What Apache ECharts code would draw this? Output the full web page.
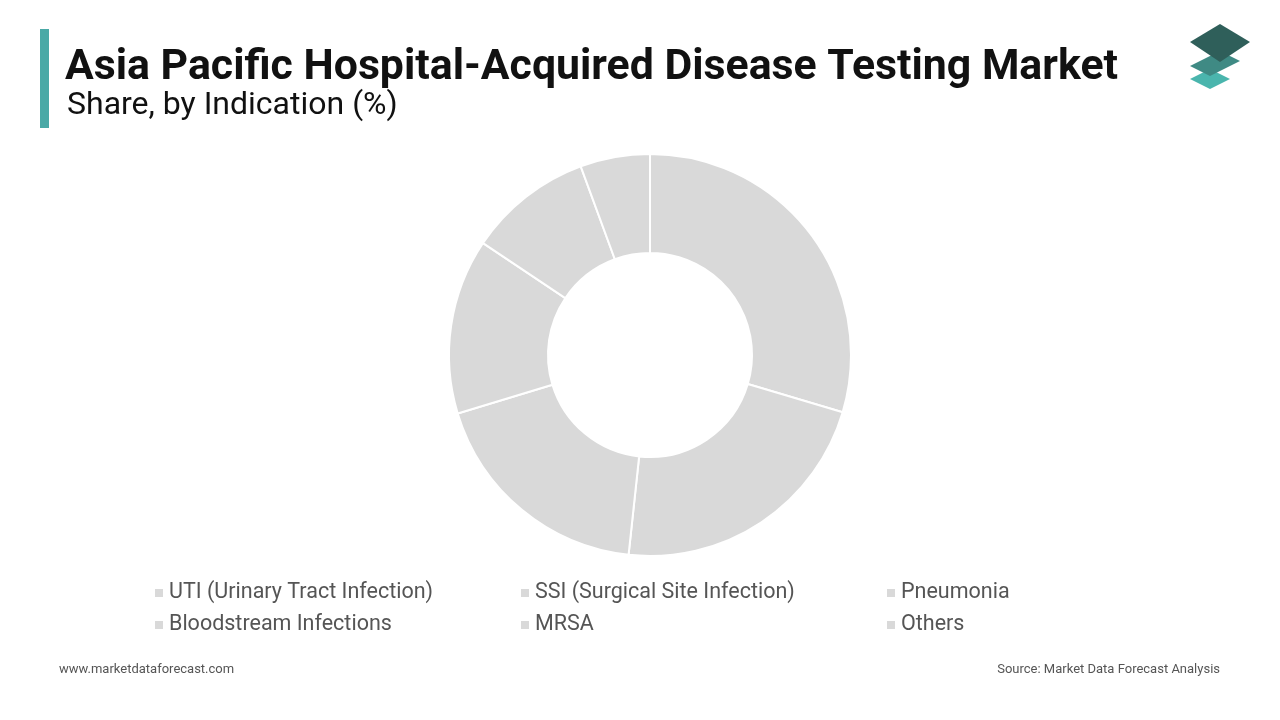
<!DOCTYPE html>
<html><head><meta charset="utf-8">
<script src="https://cdn.jsdelivr.net/npm/echarts@6/dist/echarts.min.js"></script>
<style>html,body{margin:0;padding:0;background:#fff}#c{width:1280px;height:720px}</style>
</head><body><div id="c"></div>
<script>
const categories = ["UTI (Urinary Tract Infection)","SSI (Surgical Site Infection)","Pneumonia","Bloodstream Infections","MRSA","Others"];
const values = [29.6,22.1,18.6,14.1,10.0,5.6];
const chart = echarts.init(document.getElementById('c'));
const legendCols = [[0,3],[1,4],[2,5]];
const lefts = [148,514,880];
chart.setOption({
  animation:false,
  color:['#d9d9d9'],
  graphic:[
    {type:'rect',shape:{x:40,y:29,width:9,height:99},style:{fill:'#4aa9a6'}},
    {type:'text',left:65,top:47,style:{text:'Asia Pacific Hospital-Acquired Disease Testing Market',font:'bold 42.8px Roboto, sans-serif',fill:'#111'}},
    {type:'text',left:67,top:90,style:{text:'Share, by Indication (%)',font:'32px Roboto, sans-serif',fill:'#111'}},
    {type:'polygon',shape:{points:[[1210,89],[1230,79],[1210,69],[1190,79]]},style:{fill:'#4ab5ad'}},
    {type:'polygon',shape:{points:[[1210,76],[1240,61],[1220,51],[1190,66]]},style:{fill:'#3f8a84'}},
    {type:'polygon',shape:{points:[[1220,62],[1250,42],[1220,24],[1190,42]]},style:{fill:'#2f5f5a'}},
    {type:'text',left:59,top:663,style:{text:'www.marketdataforecast.com',font:'13px Roboto, sans-serif',fill:'#555'}},
    {type:'text',right:60,top:663,style:{text:'Source: Market Data Forecast Analysis',font:'13px Roboto, sans-serif',fill:'#555'}}
  ],
  legend: legendCols.map((idx,i)=>({
    orient:'vertical',left:lefts[i],top:577,itemGap:10,itemWidth:10,itemHeight:10,icon:'rect',
    data:idx.map(k=>categories[k]),
    textStyle:{fontSize:21.5,color:'#555',fontFamily:'Roboto, sans-serif'}
  })),
  series:[{
    type:'pie',center:[650,355],radius:[102,201],startAngle:90,clockwise:true,
    label:{show:false},labelLine:{show:false},
    itemStyle:{color:'#d9d9d9',borderColor:'#fff',borderWidth:2},
    emphasis:{disabled:true},
    data:categories.map((c,i)=>({name:c,value:values[i]}))
  }]
});
</script></body></html>
